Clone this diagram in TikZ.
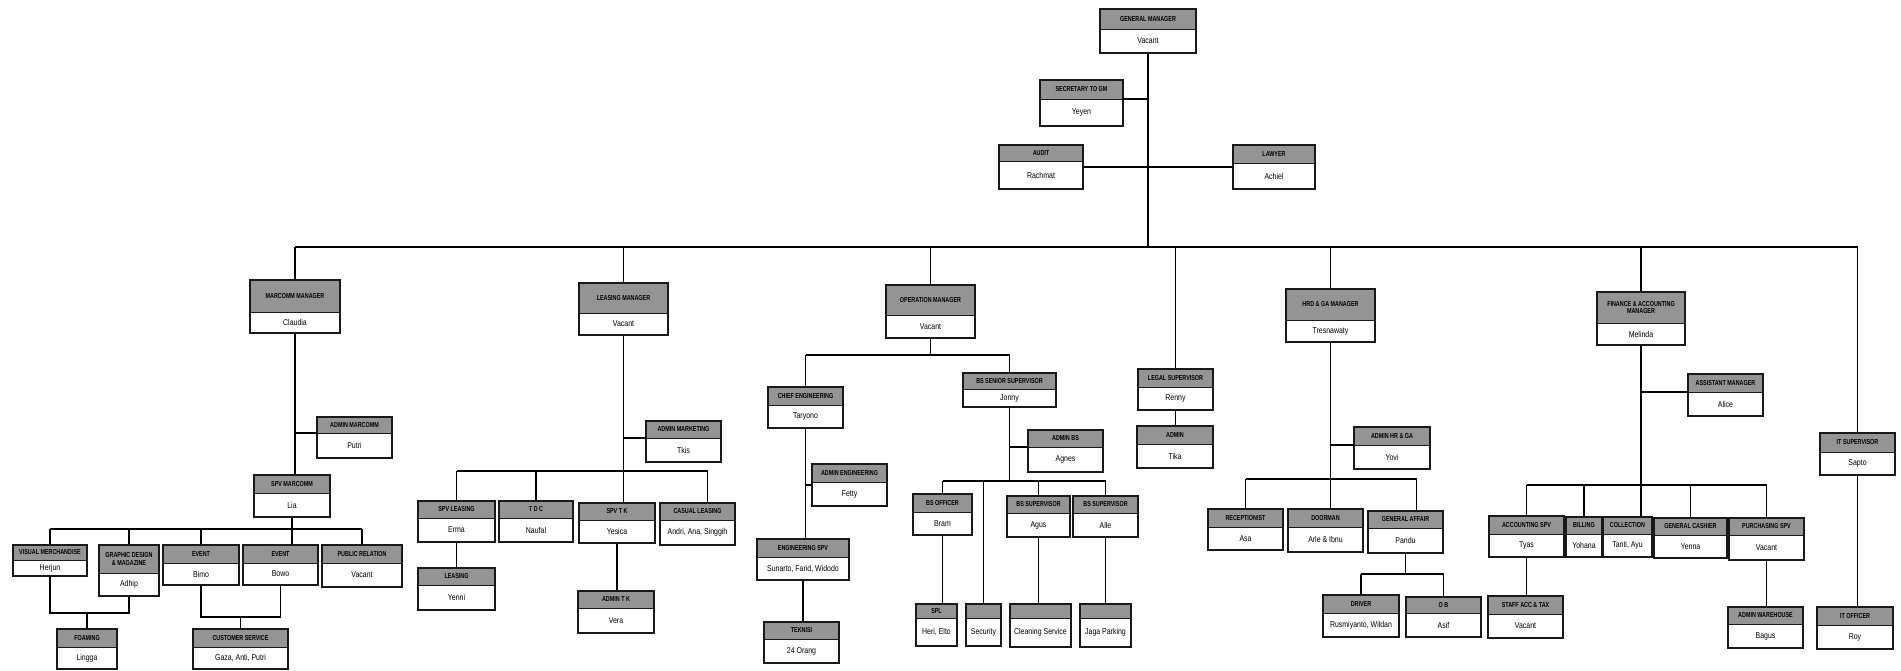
\documentclass[tikz,border=0pt]{standalone}
\usepackage{fontspec}
\setmainfont{Liberation Sans}
\newfontfamily\hdrfont[FakeStretch=0.75]{Liberation Sans}
\newfontfamily\namefont[FakeStretch=0.82]{Liberation Sans}
\usetikzlibrary{fit,calc}
\tikzset{
 conn/.style={line width=1.2pt, black},
 boxframe/.style={draw=black!90, line width=1.3pt, inner sep=0pt},
 hdrfill/.style={fill=black!42},
 hdrtext/.style={font=\hdrfont\bfseries\fontsize{7.2}{7.6}\selectfont, align=center, inner sep=0pt, text=black},
 nametext/.style={font=\namefont\fontsize{8.5}{9}\selectfont, inner sep=0pt, text=black},
}
\newcommand\obox[8]{%
 \pgfmathsetmacro\obcx{(#2+#4)/2}%
 \pgfmathsetmacro\obhy{(#3+#6)/2}%
 \pgfmathsetmacro\obny{(#6+#5)/2}%
 \fill[white] (#2,#3) rectangle (#4,#5);
 \fill[hdrfill] (#2,#3) rectangle (#4,#6);
 \draw[black!90, line width=0.9pt] (#2,#6) -- (#4,#6);
 \node[boxframe, fit={(#2,#3)(#4,#5)}] (#1) {};
 \coordinate (#1 hw) at (#2,#6);
 \coordinate (#1 he) at (#4,#6);
 \node[hdrtext] at (\obcx,\obhy) {#7};
 \node[nametext] at (\obcx,\obny) {#8};
}
\begin{document}
\begin{tikzpicture}[x=1pt,y=-1pt]
\useasboundingbox (0,0) rectangle (1901,671);
% top
\obox{gm}{1100}{9}{1196}{53}{29}{GENERAL MANAGER}{Vacant}
\obox{sec}{1040}{80}{1123}{126}{99}{SECRETARY TO GM}{Yeyen}
\obox{aud}{999}{145}{1083}{189}{161}{AUDIT}{Rachmat}
\obox{law}{1233}{145}{1315}{189}{163}{LAWYER}{Achiel}
% managers
\obox{mkt}{250}{280}{340}{333}{312}{MARCOMM MANAGER}{Claudia}
\obox{lsm}{579}{283}{668}{335}{313}{LEASING MANAGER}{Vacant}
\obox{opm}{886}{285}{975}{338}{315}{OPERATION MANAGER}{Vacant}
\obox{hrm}{1286}{289}{1375}{342}{320}{HRD \& GA MANAGER}{Tresnawaty}
\obox{fin}{1597}{292}{1685}{345}{323}{FINANCE \& ACCOUNTING\\MANAGER}{Melinda}
\obox{lgs}{1138}{369}{1213}{410}{387}{LEGAL SUPERVISOR}{Renny}
\obox{its}{1820}{433}{1895}{475}{452}{IT SUPERVISOR}{Sapto}
% marcomm
\obox{adm}{317}{417}{392}{458}{433}{ADMIN MARCOMM}{Putri}
\obox{spvm}{254}{475}{330}{517}{493}{SPV MARCOMM}{Lia}
\obox{vm}{13}{545}{87}{576}{560}{VISUAL MERCHANDISE}{Herjun}
\obox{gd}{99}{545}{159}{596}{573}{GRAPHIC DESIGN\\\& MAGAZINE}{Adhip}
\obox{ev1}{163}{545}{239}{585}{563}{EVENT}{Bimo}
\obox{ev2}{243}{545}{318}{585}{563}{EVENT}{Bowo}
\obox{pr}{322}{545}{402}{587}{563}{PUBLIC RELATION}{Vacant}
\obox{foam}{57}{629}{117}{669}{647}{FOAMING}{Lingga}
\obox{cs}{193}{629}{288}{669}{647}{CUSTOMER SERVICE}{Gaza, Anti, Putri}
% leasing
\obox{admk}{646}{421}{721}{462}{438}{ADMIN MARKETING}{Tkis}
\obox{spvl}{418}{501}{495}{542}{518}{SPV LEASING}{Erma}
\obox{tdc}{499}{501}{573}{542}{518}{T D C}{Naufal}
\obox{spvtk}{579}{503}{655}{543}{520}{SPV T K}{Yesica}
\obox{casl}{660}{503}{735}{545}{520}{CASUAL LEASING}{Andri, Ana, Singgih}
\obox{lsg}{418}{568}{495}{610}{585}{LEASING}{Yenni}
\obox{admtk}{578}{591}{654}{633}{608}{ADMIN T K}{Vera}
% operation
\obox{ce}{768}{387}{843}{428}{405}{CHIEF ENGINEERING}{Taryono}
\obox{adme}{812}{464}{887}{506}{482}{ADMIN ENGINEERING}{Fetty}
\obox{engs}{757}{539}{849}{580}{557}{ENGINEERING SPV}{Sunarto, Farid, Widodo}
\obox{tek}{764}{622}{839}{663}{639}{TEKNISI}{24 Orang}
\obox{bss}{963}{373}{1056}{407}{389}{BS SENIOR SUPERVISOR}{Jonny}
\obox{admbs}{1028}{430}{1103}{472}{447}{ADMIN BS}{Agnes}
\obox{bso}{913}{494}{972}{535}{512}{BS OFFICER}{Bram}
\obox{bsa}{1007}{496}{1070}{537}{513}{BS SUPERVISOR}{Agus}
\obox{bsb}{1073}{496}{1138}{537}{513}{BS SUPERVISOR}{Alle}
\obox{spl}{916}{604}{957}{646}{618}{SPL}{Heri, Elto}
\obox{scr}{966}{604}{1001}{646}{618}{}{Security}
\obox{cln}{1010}{604}{1071}{647}{618}{}{Cleaning Service}
\obox{jaga}{1080}{604}{1131}{647}{618}{}{Jaga Parking}
% legal
\obox{lga}{1137}{426}{1213}{468}{444}{ADMIN}{Tika}
% hr
\obox{admh}{1354}{427}{1430}{469}{445}{ADMIN HR \& GA}{Yovi}
\obox{rec}{1208}{509}{1283}{550}{527}{RECEPTIONIST}{Asa}
\obox{door}{1288}{509}{1363}{552}{527}{DOORMAN}{Arle \& Ibnu}
\obox{ga}{1368}{511}{1443}{553}{528}{GENERAL AFFAIR}{Pandu}
\obox{drv}{1323}{595}{1399}{637}{613}{DRIVER}{Rusmiyanto, Wildan}
\obox{obx}{1406}{597}{1481}{637}{613}{O B}{Asif}
% finance
\obox{asm}{1688}{374}{1763}{416}{392}{ASSISTANT MANAGER}{Alice}
\obox{accs}{1489}{516}{1564}{557}{534}{ACCOUNTING SPV}{Tyas}
\obox{bil}{1566}{517}{1602}{557}{534}{BILLING}{Yohana}
\obox{col}{1603}{517}{1652}{557}{534}{COLLECTION}{Tanti, Ayu}
\obox{gc}{1654}{518}{1727}{558}{535}{GENERAL CASHIER}{Yenna}
\obox{pur}{1729}{518}{1804}{560}{535}{PURCHASING SPV}{Vacant}
\obox{stx}{1488}{596}{1563}{638}{614}{STAFF ACC \& TAX}{Vacant}
\obox{awh}{1728}{607}{1803}{648}{624}{ADMIN WAREHOUSE}{Bagus}
\obox{ito}{1817}{607}{1893}{649}{625}{IT OFFICER}{Roy}

% ---------- connectors ----------
\coordinate (mbus) at (0,247);
\draw[conn] (gm.south) -- (gm.south |- mbus);
\draw[conn] (sec he) -- (sec he -| gm.south);
\draw[conn] (aud.east) -- (law.west);
\draw[conn] (mkt.north |- mbus) -- (its.north |- mbus);
\foreach \n in {mkt,lsm,opm,lgs,hrm,fin,its}
  \draw[conn] (\n.north) -- (\n.north |- mbus);

% marcomm
\coordinate (mbus2) at (0,529);
\draw[conn] (mkt.south) -- (mkt.south |- spvm.north);
\draw[conn] (adm hw) -- (adm hw -| mkt.south);
\draw[conn] (spvm.south) -- (spvm.south |- ev2.north);
\draw[conn] (vm.north |- mbus2) -- (pr.north |- mbus2);
\foreach \n in {vm,gd,ev1,pr}
  \draw[conn] (\n.north) -- (\n.north |- mbus2);
\draw[conn] (vm.south) -- (vm.south |- 0,613) -| (gd.south);
\draw[conn] (foam.north) -- (foam.north |- 0,613);
\draw[conn] (ev1.south) -- (ev1.south |- 0,617) -| (ev2.south);
\draw[conn] (cs.north) -- (cs.north |- 0,617);

% leasing
\coordinate (lbus) at (0,471);
\coordinate (casltop) at ([xshift=10pt]casl.north);
\draw[conn] (lsm.south) -- (lsm.south |- spvtk.north);
\draw[conn] (admk hw) -- (admk hw -| lsm.south);
\draw[conn] (spvl.north |- lbus) -- (casltop |- lbus);
\draw[conn] (spvl.north) -- (spvl.north |- lbus);
\draw[conn] (tdc.north) -- (tdc.north |- lbus);
\draw[conn] (casltop) -- (casltop |- lbus);
\draw[conn] (spvl.south) -- (spvl.south |- lsg.north);
\draw[conn] (spvtk.south) -- (spvtk.south |- admtk.north);

% operation
\coordinate (obus) at (0,355);
\draw[conn] (opm.south) -- (opm.south |- obus);
\draw[conn] (ce.north |- obus) -- (bss.north |- obus);
\draw[conn] (ce.north) -- (ce.north |- obus);
\draw[conn] (bss.north) -- (bss.north |- obus);
\draw[conn] (ce.south) -- (ce.south |- engs.north);
\draw[conn] (adme.west) -- (adme.west -| ce.south);
\draw[conn] (engs.south) -- (engs.south |- tek.north);
\coordinate (bbus) at (0,481);
\draw[conn] (bss.south) -- (bss.south |- bbus);
\draw[conn] (admbs hw) -- (admbs hw -| bss.south);
\draw[conn] (bso.north |- bbus) -- (bsb.north |- bbus);
\foreach \n in {bso,bsa,bsb,scr}
  \draw[conn] (\n.north) -- (\n.north |- bbus);
\draw[conn] (bso.south) -- (bso.south |- spl.north);
\draw[conn] (bsa.south) -- (bsa.south |- cln.north);
\draw[conn] (bsb.south) -- (bsb.south |- jaga.north);

% legal
\draw[conn] (lgs.south) -- (lgs.south |- lga.north);

% hr
\coordinate (hbus) at (0,479);
\coordinate (gatop) at ([xshift=11pt]ga.north);
\draw[conn] (hrm.south) -- (hrm.south |- door.north);
\draw[conn] (admh hw) -- (admh hw -| hrm.south);
\draw[conn] (rec.north |- hbus) -- (gatop |- hbus);
\draw[conn] (rec.north) -- (rec.north |- hbus);
\draw[conn] (gatop) -- (gatop |- hbus);
\coordinate (gbus) at (0,574);
\draw[conn] (ga.south) -- (ga.south |- gbus);
\draw[conn] (drv.north |- gbus) -- (obx.north |- gbus);
\draw[conn] (drv.north) -- (drv.north |- gbus);
\draw[conn] (obx.north) -- (obx.north |- gbus);

% finance
\coordinate (fbus) at (0,485);
\draw[conn] (fin.south) -- (fin.south |- col.north);
\draw[conn] (asm hw) -- (asm hw -| fin.south);
\draw[conn] (accs.north |- fbus) -- (pur.north |- fbus);
\foreach \n in {accs,bil,gc,pur}
  \draw[conn] (\n.north) -- (\n.north |- fbus);
\draw[conn] (accs.south) -- (accs.south |- stx.north);
\draw[conn] (pur.south) -- (pur.south |- awh.north);

% it
\draw[conn] (its.south) -- (its.south |- ito.north);
\end{tikzpicture}
\end{document}
